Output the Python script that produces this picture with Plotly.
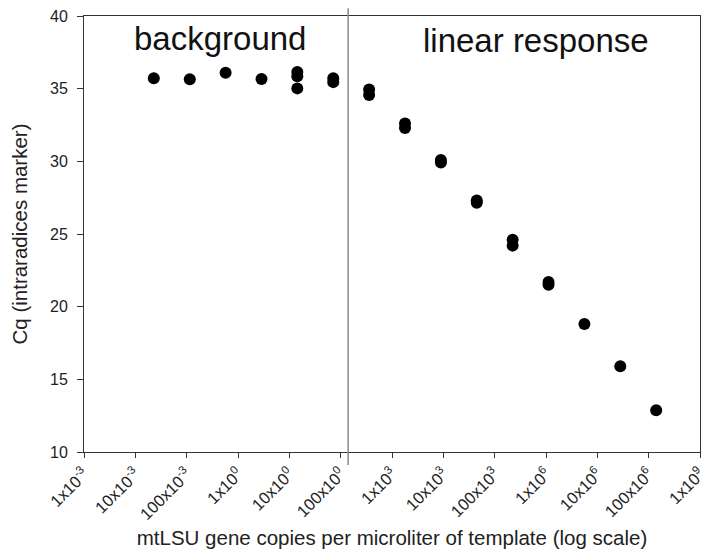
import plotly.graph_objects as go

# data: copies per microliter (5-fold dilutions) and Cq values (replicates)
bg_x = [0.0229, 0.115, 0.573, 2.87, 14.3, 14.3, 14.3, 71.7, 71.7]
bg_y = [35.72, 35.65, 36.1, 35.66, 36.15, 35.85, 35.02, 35.72, 35.45]

lin_x = [358.4, 358.4, 1792, 1792, 8960, 8960, 44800, 44800,
         224000, 224000, 1.12e6, 1.12e6, 5.6e6, 2.8e7, 1.4e8]
lin_y = [34.94, 34.56, 32.6, 32.3, 30.1, 29.92, 27.3, 27.15,
         24.6, 24.2, 21.7, 21.5, 18.8, 15.9, 12.88]

tick_vals = [1e-3, 1e-2, 1e-1, 1e0, 1e1, 1e2, 1e3, 1e4, 1e5, 1e6, 1e7, 1e8, 1e9]
tick_text = ["1x10<sup>-3</sup>", "10x10<sup>-3</sup>", "100x10<sup>-3</sup>",
             "1x10<sup>0</sup>", "10x10<sup>0</sup>", "100x10<sup>0</sup>",
             "1x10<sup>3</sup>", "10x10<sup>3</sup>", "100x10<sup>3</sup>",
             "1x10<sup>6</sup>", "10x10<sup>6</sup>", "100x10<sup>6</sup>",
             "1x10<sup>9</sup>"]
y_ticks = [10, 15, 20, 25, 30, 35, 40]
divider_x = 140

FONT = "Liberation Sans, Arial, Helvetica, sans-serif"

L, R, T, B = 84, 6, 16, 98
W, H = 706, 550
pw, ph = W - L - R, H - T - B

fig = go.Figure()
fig.add_trace(go.Scatter(x=bg_x + lin_x, y=bg_y + lin_y, mode="markers",
                         marker=dict(size=12, color="#000000"),
                         showlegend=False, hoverinfo="x+y"))

fig.add_shape(type="line", xref="x", yref="paper", x0=divider_x, x1=divider_x,
              y0=-0.03, y1=1.018, line=dict(color="#8a8a8a", width=1.5))

fig.add_annotation(text="background", xref="paper", yref="paper",
                   x=(220 - L) / pw, y=(H - B - 39) / ph,
                   showarrow=False, font=dict(size=33, color="#111111", family=FONT),
                   xanchor="center", yanchor="middle")
fig.add_annotation(text="linear response", xref="paper", yref="paper",
                   x=(535.5 - L) / pw, y=(H - B - 40) / ph,
                   showarrow=False, font=dict(size=33, color="#111111", family=FONT),
                   xanchor="center", yanchor="middle")

fig.update_layout(
    width=W, height=H,
    margin=dict(l=L, r=R, t=T, b=B),
    paper_bgcolor="white", plot_bgcolor="white",
    font=dict(family=FONT, color="#222222"),
)
fig.update_xaxes(type="log", range=[-3, 9], tickvals=tick_vals, ticktext=tick_text,
                 tickangle=-45, ticks="outside", ticklen=5, tickcolor="#333333",
                 ticklabeloverflow="allow", automargin=False,
                 tickfont=dict(size=16.5, family=FONT, color="#222222"),
                 showline=True, linecolor="#333333", linewidth=1, mirror=True,
                 showgrid=False, zeroline=False,
                 title=dict(text="mtLSU gene copies per microliter of template (log scale)",
                            font=dict(size=20.5, family=FONT, color="#222222"), standoff=8))
fig.update_yaxes(range=[10, 40], tickvals=y_ticks, ticks="outside", ticklen=6,
                 tickcolor="#333333", ticklabelstandoff=6, automargin=False,
                 tickfont=dict(size=16, family=FONT, color="#222222"),
                 showline=True, linecolor="#333333", linewidth=1, mirror=True,
                 showgrid=False, zeroline=False,
                 title=dict(text="Cq (intraradices marker)",
                            font=dict(size=20.5, family=FONT, color="#222222"), standoff=16))

fig.write_html("out.html")
